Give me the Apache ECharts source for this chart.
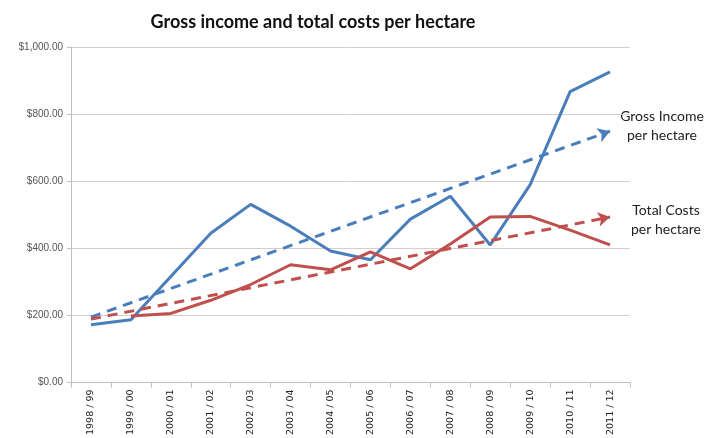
<!DOCTYPE html>
<html>
<head>
<meta charset="utf-8">
<script src="https://cdn.jsdelivr.net/npm/echarts@6/dist/echarts.min.js"></script>
<style>html,body{margin:0;padding:0;background:#fff;}#c{width:708px;height:438px;}</style>
</head>
<body>
<div id="c"></div>
<script>
const categories = ['1998 / 99','1999 / 00','2000 / 01','2001 / 02','2002 / 03','2003 / 04','2004 / 05','2005 / 06','2006 / 07','2007 / 08','2008 / 09','2009 / 10','2010 / 11','2011 / 12'];
const grossIncome = [172, 187, 316, 445, 531, 466, 392, 366, 487, 555, 410, 590, 867, 926];
const totalCosts = [null, 198, 206, 245, 292, 351, 336, 389, 339, 413, 493, 495, 454, 410];
const incomeTrend = [195, 749];
const costsTrend = [189, 493];
const yTicks = [0, 200, 400, 600, 800, 1000];

const blue = '#4A7EBB';
const red = '#C0504D';

const chart = echarts.init(document.getElementById('c'));
chart.setOption({
  animation: false,
  backgroundColor: '#fff',
  title: {
    text: 'Gross income and total costs per hectare',
    left: 308, top: 8, textAlign: 'center',
    textStyle: { fontFamily: 'Lato', fontWeight: 'bold', fontSize: 18, color: '#111' }
  },
  grid: { left: 71, right: 78, top: 47, bottom: 49 },
  xAxis: {
    type: 'category',
    data: categories,
    boundaryGap: true,
    axisLine: { lineStyle: { color: '#bfbfbf', width: 1 } },
    axisTick: { show: true, length: 5, lineStyle: { color: '#bfbfbf' } },
    axisLabel: { rotate: 90, fontFamily: 'DejaVu Sans', fontSize: 9.5, color: '#222', margin: 7, interval: 0 }
  },
  yAxis: {
    type: 'value',
    min: yTicks[0], max: yTicks[yTicks.length - 1], interval: 200,
    axisLine: { show: true, lineStyle: { color: '#bfbfbf' } },
    axisTick: { show: true, length: 4, lineStyle: { color: '#bfbfbf' } },
    splitLine: { lineStyle: { color: '#d8cccc', width: 1 } },
    axisLabel: {
      fontFamily: 'Liberation Sans', fontSize: 10, color: '#555', margin: 8,
      formatter: v => '$' + v.toLocaleString('en-US', { minimumFractionDigits: 2, maximumFractionDigits: 2 })
    }
  },
  series: [
    {
      name: 'Gross Income per hectare', type: 'line', data: grossIncome,
      symbol: 'none', lineStyle: { color: blue, width: 3 }, z: 3,
      markLine: {
        silent: true, symbol: ['none', 'arrow'], symbolSize: [11, 12],
        label: { show: false },
        lineStyle: { color: blue, width: 3, type: [10, 7], opacity: 1 },
        data: [[{ coord: [categories[0], incomeTrend[0]] }, { coord: [categories[categories.length - 1], incomeTrend[1]] }]]
      }
    },
    {
      name: 'Total Costs per hectare', type: 'line', data: totalCosts,
      symbol: 'none', lineStyle: { color: red, width: 3 }, z: 3,
      markLine: {
        silent: true, symbol: ['none', 'arrow'], symbolSize: [11, 12],
        label: { show: false },
        lineStyle: { color: red, width: 3, type: [10, 7], opacity: 1 },
        data: [[{ coord: [categories[0], costsTrend[0]] }, { coord: [categories[categories.length - 1], costsTrend[1]] }]]
      }
    }
  ],
  graphic: [
    { type: 'text', x: 662, y: 107, style: { text: 'Gross Income\nper hectare', fontFamily: 'Lato', fontSize: 14, lineHeight: 19, fill: '#222', align: 'center' } },
    { type: 'text', x: 666, y: 201, style: { text: 'Total Costs\nper hectare', fontFamily: 'Lato', fontSize: 14, lineHeight: 19, fill: '#222', align: 'center' } }
  ]
});
</script>
</body>
</html>
